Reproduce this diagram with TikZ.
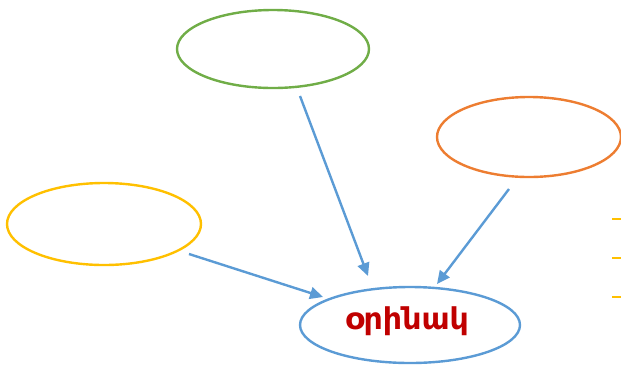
\documentclass[tikz,border=0pt]{standalone}
\usepackage{fontspec}
\newfontfamily\armfont[Script=Armenian]{DejaVu Sans}
\usetikzlibrary{arrows.meta,shapes.geometric}
\definecolor{cgreen}{HTML}{70AD47}
\definecolor{corange}{HTML}{ED7D31}
\definecolor{cyellow}{HTML}{FFC000}
\definecolor{cblue}{HTML}{5B9BD5}
\definecolor{cred}{HTML}{C00000}
\tikzset{
  ell/.style={draw, line width=2.4pt, ellipse, inner sep=0pt, fill=white},
  conn/.style={draw=cblue, line width=2.4pt, -{Triangle[length=13pt,width=12pt]}},
  tick/.style={draw=cyellow, line width=2.4pt}
}
\begin{document}
\begin{tikzpicture}[x=1pt,y=-1pt]
\useasboundingbox (0,0) rectangle (621,365);
\node[ell, draw=cgreen, minimum width=192pt, minimum height=78pt] (green) at (273,49) {};
\node[ell, draw=corange, minimum width=184pt, minimum height=80pt] (orange) at (529,137) {};
\node[ell, draw=cyellow, minimum width=194pt, minimum height=82pt] (yellow) at (104,224) {};
\node[ell, draw=cblue, minimum width=220pt, minimum height=76pt] (blue) at (410,325) {};
\node[text=cred, font=\armfont\bfseries\fontsize{30}{34}\selectfont] (label) at (407,321) {օրինակ};
\coordinate (g1) at (300,96);
\coordinate (g2) at (368,276);
\coordinate (o1) at (509,189);
\coordinate (o2) at (437,284);
\coordinate (y1) at (189,254);
\coordinate (y2) at (323,297);
\draw[conn] (g1) -- (g2);
\draw[conn] (o1) -- (o2);
\draw[conn] (y1) -- (y2);
\coordinate (t1a) at (612,219); \coordinate (t1b) at (622,219);
\coordinate (t2a) at (612,258); \coordinate (t2b) at (622,258);
\coordinate (t3a) at (612,297); \coordinate (t3b) at (622,297);
\draw[tick] (t1a) -- (t1b);
\draw[tick] (t2a) -- (t2b);
\draw[tick] (t3a) -- (t3b);
\end{tikzpicture}
\end{document}
